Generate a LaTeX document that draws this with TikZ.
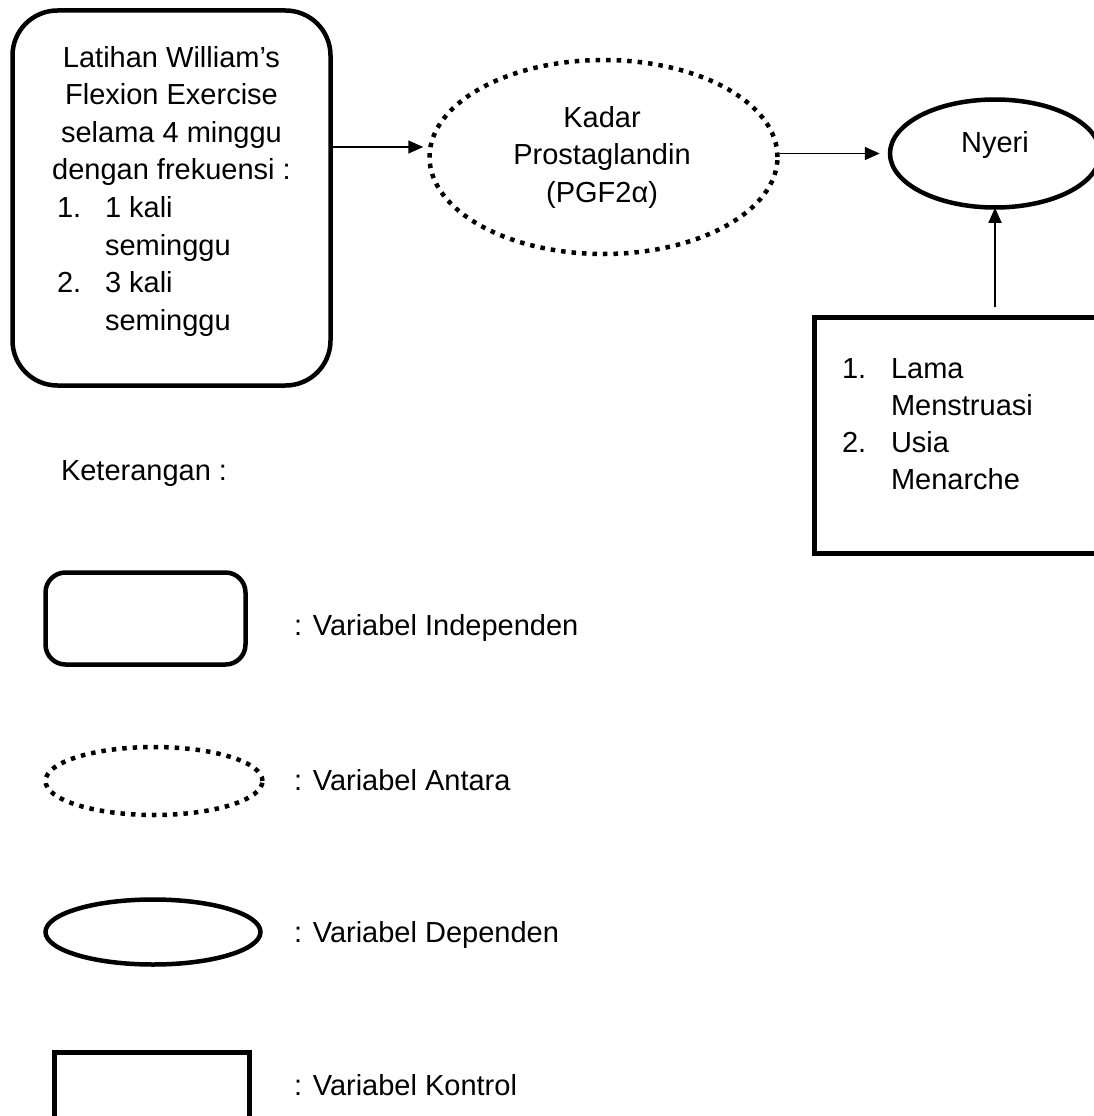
\documentclass[tikz,border=0pt]{standalone}
\usepackage{fontspec}
\setmainfont{Liberation Sans}
\usetikzlibrary{shapes.geometric,arrows.meta}
\tikzset{
  txt/.style={inner sep=0pt, outer sep=0pt, font=\fontsize{29}{37.6}\selectfont},
  indepbox/.style={draw, line width=4.5pt, rounded corners=45pt, inner sep=0pt},
  antara/.style={draw, ellipse, line width=4.5pt, dash pattern=on 4.5pt off 6pt, inner sep=0pt},
  depend/.style={draw, ellipse, line width=4.5pt, inner sep=0pt},
  kontrol/.style={draw, rectangle, line width=4.5pt, inner sep=0pt},
  arr/.style={line width=1.6pt, -{Triangle[length=15pt,width=13pt]}}
}
\begin{document}
\begin{tikzpicture}[x=1pt,y=-1pt]
\useasboundingbox (0,0) rectangle (1094,1116);
\fill[white] (0,0) rectangle (1094,1116);
\clip (0,0) rectangle (1094,1116);

% main shapes
\node[indepbox, minimum width=318pt, minimum height=375pt] (indep) at (171.5,198) {};
\node[antara, minimum width=348pt, minimum height=194pt] (prost) at (603.5,157) {};
\node[depend, minimum width=210pt, minimum height=108pt] (nyeri) at (995,153.5) {};
\node[kontrol, minimum width=296pt, minimum height=236pt] (ctrl) at (962.5,435.5) {};

% independent text
\node[txt, anchor=base] (i1) at (171.5,67) {Latihan William’s};
\node[txt, anchor=base] (i2) at (171.5,104.6) {Flexion Exercise};
\node[txt, anchor=base] (i3) at (171.5,142.2) {selama 4 minggu};
\node[txt, anchor=base] (i4) at (171.5,179.8) {dengan frekuensi :};
\node[txt, anchor=base west] (i5n) at (57,217.4) {1.};
\node[txt, anchor=base west] (i5) at (105,217.4) {1 kali};
\node[txt, anchor=base west] (i6) at (105,255) {seminggu};
\node[txt, anchor=base west] (i7n) at (57,292.6) {2.};
\node[txt, anchor=base west] (i7) at (105,292.6) {3 kali};
\node[txt, anchor=base west] (i8) at (105,330.2) {seminggu};

% intervening text
\node[txt, anchor=base] (p1) at (602,127) {Kadar};
\node[txt, anchor=base] (p2) at (602,164.6) {Prostaglandin};
\node[txt, anchor=base] (p3) at (602,202.2) {(PGF2α)};

% dependent text
\node[txt, anchor=base] (n1) at (995,152) {Nyeri};

% control text
\node[txt, anchor=base west] (k1n) at (842,378) {1.};
\node[txt, anchor=base west] (k1) at (891,378) {Lama};
\node[txt, anchor=base west] (k2) at (891,415) {Menstruasi};
\node[txt, anchor=base west] (k3n) at (842,452) {2.};
\node[txt, anchor=base west] (k3) at (891,452) {Usia};
\node[txt, anchor=base west] (k4) at (891,489) {Menarche};

% connectors
\coordinate (y147) at (0,147);
\draw[arr, shorten >=4pt] (indep.east |- y147) -- (prost.west |- y147);
\draw[arr, shorten >=8pt] (prost.east |- nyeri.west) -- (nyeri.west);
\coordinate (c3) at (nyeri.south |- ctrl.north);
\draw[arr, shorten <=8pt, shorten >=-2pt] (c3) -- (nyeri.south);

% legend
\node[txt, anchor=base west] (ket) at (61,480) {Keterangan :};
\node[indepbox, rounded corners=20pt, minimum width=200pt, minimum height=92pt] (lg1) at (145.5,618.5) {};
\node[antara, minimum width=217pt, minimum height=68pt] (lg2) at (154,781) {};
\node[depend, minimum width=215pt, minimum height=65pt] (lg3) at (153,932) {};
\node[kontrol, minimum width=195pt, minimum height=88pt] (lg4) at (152,1096.5) {};
\node[txt, anchor=base west] (l1) at (294,635) {: Variabel Independen};
\node[txt, anchor=base west] (l2) at (294,790) {: Variabel Antara};
\node[txt, anchor=base west] (l3) at (294,942) {: Variabel Dependen};
\node[txt, anchor=base west] (l4) at (294,1095) {: Variabel Kontrol};
\end{tikzpicture}
\end{document}
